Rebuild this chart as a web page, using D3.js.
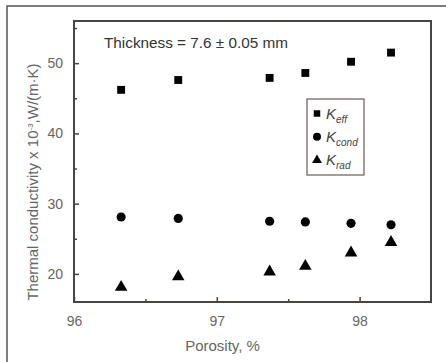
<!DOCTYPE html>
<html>
<head>
<meta charset="utf-8">
<script src="https://cdn.jsdelivr.net/npm/d3@7"></script>
<style>
    body { margin: 0; background: #fff; }
    text { font-family: "Liberation Sans", Arial, sans-serif; }
</style>
</head>
<body>
<div id="chart"></div>
<script>

// porosity values (x), %
var porosity = [96.33, 96.73, 97.37, 97.62, 97.94, 98.22];

// thermal conductivity x 10^-3, W/(m·K)
var kEff = [46.2, 47.6, 47.9, 48.6, 50.2, 51.5];
var kCond = [28.1, 27.9, 27.5, 27.4, 27.2, 27.0];
var kRad = [18.1, 19.6, 20.3, 21.1, 23.0, 24.5];

var xTicks = [96, 97, 98];
var yTicks = [20, 30, 40, 50];

var legendNames = [
    { base: "K", sub: "eff" },
    { base: "K", sub: "cond" },
    { base: "K", sub: "rad" }
];

var W = 446, H = 362;
var margin = { left: 74, top: 21, right: 15, bottom: 60 };
var width = W - margin.left - margin.right;
var height = H - margin.top - margin.bottom;

var root = d3.select("#chart")
    .append("svg")
    .attr("width", W)
    .attr("height", H);

// outer picture frame (only left/top visible)
root.append("rect")
    .attr("x", 7).attr("y", 6)
    .attr("width", W + 10).attr("height", H + 10)
    .attr("fill", "#fff")
    .attr("stroke", "#555")
    .attr("stroke-width", 1.5);

var svg = root.append("g")
    .attr("transform", "translate(" + margin.left + "," + margin.top + ")");

var x = d3.scaleLinear().domain([96, 98.5]).range([0, width]);
var y = d3.scaleLinear().domain([16, 56]).range([height, 0]);

var axisColor = "#4a4540";
var textColor = "#666";

// ticks (inside)
var xaxis = svg.append("g")
    .attr("transform", "translate(0," + height + ")")
    .call(d3.axisBottom(x).tickValues(xTicks).tickSize(-5).tickPadding(14).tickFormat(d3.format("d")));
var xminor = svg.append("g")
    .attr("transform", "translate(0," + height + ")")
    .call(d3.axisBottom(x).tickValues([96.5, 97.5]).tickSize(-3).tickFormat(""));

var yaxis = svg.append("g")
    .call(d3.axisLeft(y).tickValues(yTicks).tickSize(-5).tickPadding(11).tickFormat(d3.format("d")));
var yminor = svg.append("g")
    .call(d3.axisLeft(y).tickValues([25, 35, 45, 55]).tickSize(-3).tickFormat(""));

[xaxis, xminor, yaxis, yminor].forEach(function (a) {
    a.select(".domain").remove();
    a.selectAll("line").style("stroke", axisColor).style("stroke-width", 1.5);
    a.selectAll("text")
        .style("fill", textColor)
        .style("font-size", "14px");
});

// plot frame
svg.append("rect")
    .attr("width", width)
    .attr("height", height)
    .attr("fill", "none")
    .attr("stroke", axisColor)
    .attr("stroke-width", 2);

// axis titles
svg.append("text")
    .attr("x", x(97.04))
    .attr("y", height + 49)
    .attr("text-anchor", "middle")
    .style("fill", textColor)
    .style("font-size", "15px")
    .text("Porosity, %");

var ytitle = svg.append("text")
    .attr("transform", "translate(-36," + (182 - margin.top) + ") rotate(-90)")
    .attr("text-anchor", "middle")
    .style("fill", textColor)
    .style("font-size", "15px");
ytitle.append("tspan").text("Thermal conductivity x 10");
ytitle.append("tspan").attr("dy", -5).style("font-size", "8px").text("-3");
ytitle.append("tspan").attr("dy", 5).text(",W/(m·K)");

// annotation
svg.append("text")
    .attr("x", 30)
    .attr("y", 27)
    .style("fill", "#333")
    .style("font-size", "15.3px")
    .text("Thickness = 7.6 ± 0.05 mm");

// markers
var sq = d3.symbol().type(d3.symbolSquare).size(62);
var ci = d3.symbol().type(d3.symbolCircle).size(66);
var tr = d3.symbol().type(d3.symbolTriangle).size(68);

var series = [
    { values: kEff, sym: sq },
    { values: kCond, sym: ci },
    { values: kRad, sym: tr }
];

series.forEach(function (s) {
    svg.selectAll(null)
        .data(s.values)
        .enter()
        .append("path")
        .attr("d", s.sym)
        .attr("fill", "#000")
        .attr("transform", function (d, i) {
            return "translate(" + x(porosity[i]) + "," + y(d) + ")";
        });
});

// legend
var lg = svg.append("g").attr("transform", "translate(" + (307 - margin.left) + "," + (99 - margin.top) + ")");
lg.append("rect")
    .attr("width", 57)
    .attr("height", 76)
    .attr("fill", "#fff")
    .attr("stroke", "#6a5a55")
    .attr("stroke-width", 1.2);

var syms = [
    d3.symbol().type(d3.symbolSquare).size(42),
    d3.symbol().type(d3.symbolCircle).size(50),
    d3.symbol().type(d3.symbolTriangle).size(42)
];

var item = lg.selectAll(".legend")
    .data(legendNames)
    .enter()
    .append("g")
    .attr("class", "legend")
    .attr("transform", function (d, i) { return "translate(0," + (14.5 + i * 23.3) + ")"; });

item.append("path")
    .attr("d", function (d, i) { return syms[i](); })
    .attr("transform", "translate(10,0)")
    .attr("fill", "#000");

var lt = item.append("text")
    .attr("x", 19)
    .attr("y", 5)
    .style("fill", "#444")
    .style("font-style", "italic")
    .style("font-size", "15px");
lt.append("tspan").text(function (d) { return d.base; });
lt.append("tspan").attr("dy", 4).style("font-size", "10px").text(function (d) { return d.sub; });

</script>
</body>
</html>
